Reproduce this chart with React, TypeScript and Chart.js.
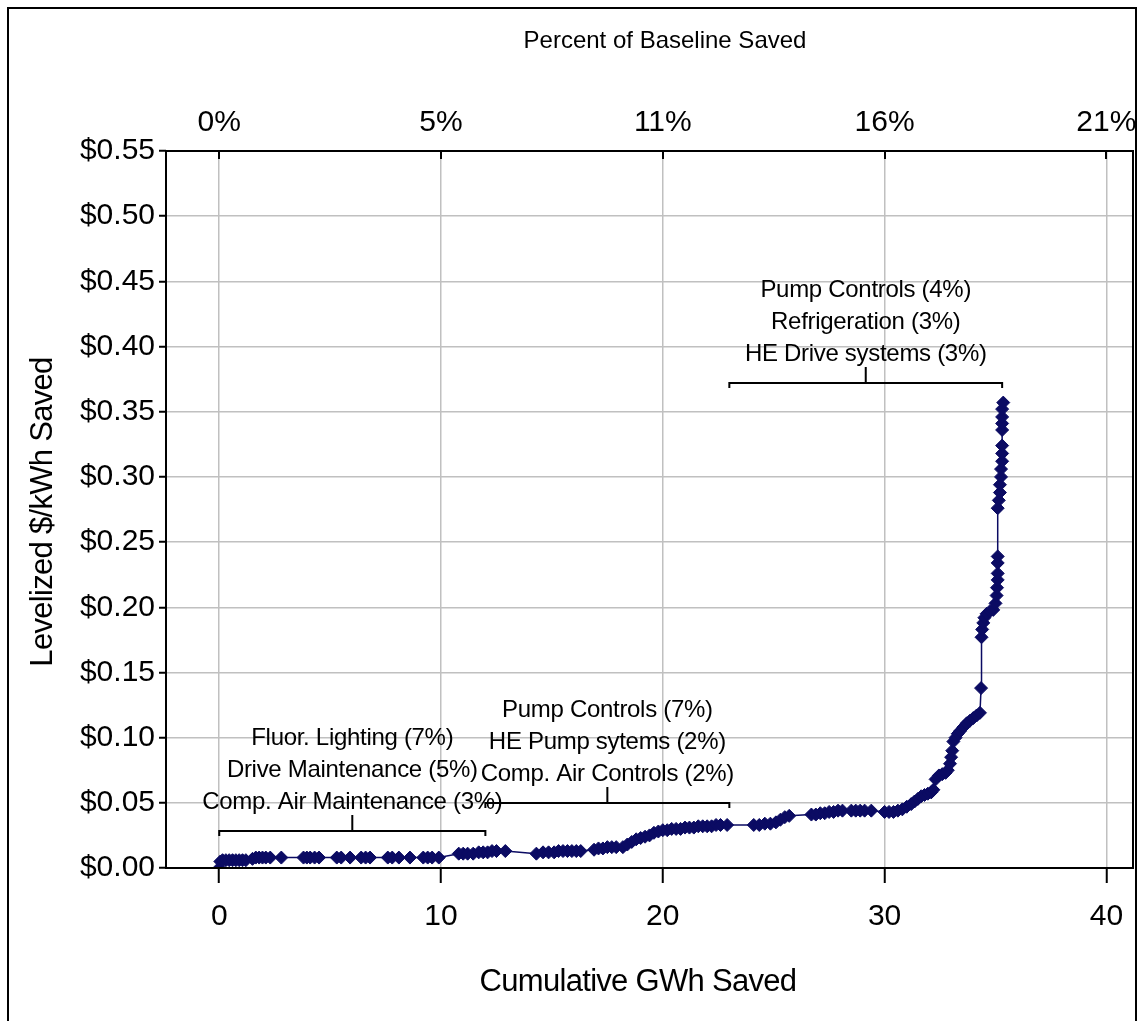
import React, { useEffect, useRef } from "react";
import { Chart, registerables } from "chart.js";

Chart.register(...registerables);

const FONT = "'Liberation Sans', Arial, sans-serif";
const NAVY = "#0b0b63";

// Cumulative GWh saved (x) and levelized $/kWh (y)
const gwh = [
  0, 0.05, 0.15, 0.3, 0.45, 0.6, 0.75, 0.9, 1.05, 1.2,
  1.5, 1.65, 1.8, 1.95, 2.1, 2.3, 2.8, 3.8, 3.95, 4.1,
  4.3, 4.5, 5.3, 5.5, 5.9, 6.4, 6.6, 6.8, 7.6, 7.8,
  8.1, 8.6, 9.2, 9.4, 9.6, 9.9, 10.8, 11.0, 11.2, 11.45,
  11.7, 11.9, 12.1, 12.3, 12.5, 12.9,
  14.3, 14.6, 14.85, 15.1, 15.3, 15.5, 15.7, 15.9, 16.1, 16.3,
  16.9, 17.1, 17.3, 17.5, 17.7, 17.9, 18.2, 18.4, 18.6, 18.8,
  19.0, 19.2, 19.4, 19.6, 19.8, 20.0, 20.2, 20.4, 20.6, 20.8,
  21.0, 21.2, 21.4, 21.6, 21.8, 22.0, 22.2, 22.4, 22.6, 22.9,
  24.1, 24.35, 24.6, 24.85, 25.1, 25.3, 25.5, 25.7, 26.7, 26.9,
  27.1, 27.3, 27.5, 27.7, 27.9, 28.1, 28.5, 28.7, 28.9, 29.1,
  29.4, 30.0, 30.2, 30.4, 30.6,
  30.8, 31.0, 31.2, 31.35, 31.5, 31.65, 31.8, 31.95, 32.1, 32.2,
  32.3, 32.45, 32.6, 32.75, 32.85, 32.95, 33.0, 33.05, 33.1, 33.2,
  33.3, 33.4, 33.55, 33.7, 33.85, 34.0, 34.15, 34.3, 34.35,
  34.37, 34.4, 34.45, 34.5, 34.6, 34.75, 34.9, 35.0, 35.05, 35.07,
  35.1, 35.1, 35.1, 35.1,
  35.1, 35.15, 35.2, 35.2, 35.25, 35.25, 35.3, 35.3, 35.3, 35.3,
  35.3, 35.3, 35.3, 35.35,
];

const cost = [
  0, 0.005, 0.006, 0.006, 0.006, 0.006, 0.006, 0.006, 0.006, 0.006,
  0.007, 0.008, 0.008, 0.008, 0.008, 0.008, 0.008, 0.008, 0.008, 0.008,
  0.008, 0.008, 0.008, 0.008, 0.008, 0.008, 0.008, 0.008, 0.008, 0.008,
  0.008, 0.008, 0.008, 0.008, 0.008, 0.008, 0.011, 0.011, 0.011, 0.011,
  0.012, 0.012, 0.012, 0.013, 0.013, 0.013,
  0.011, 0.012, 0.012, 0.012, 0.013, 0.013, 0.013, 0.013, 0.013, 0.013,
  0.014, 0.015, 0.015, 0.016, 0.016, 0.016, 0.016, 0.018, 0.020, 0.022,
  0.023, 0.024, 0.025, 0.027, 0.028, 0.029, 0.029, 0.030, 0.030, 0.030,
  0.031, 0.031, 0.031, 0.032, 0.032, 0.032, 0.032, 0.033, 0.033, 0.033,
  0.033, 0.033, 0.034, 0.034, 0.035, 0.037, 0.039, 0.040, 0.041, 0.041,
  0.042, 0.042, 0.043, 0.043, 0.044, 0.044, 0.044, 0.044, 0.044, 0.044,
  0.044, 0.043, 0.043, 0.043, 0.044,
  0.045, 0.047, 0.049, 0.051, 0.053, 0.055, 0.056, 0.057, 0.058, 0.060,
  0.068, 0.071, 0.072, 0.073, 0.075, 0.080, 0.085, 0.090, 0.097, 0.100,
  0.103, 0.105, 0.108, 0.111, 0.113, 0.115, 0.117, 0.119, 0.138,
  0.177, 0.183, 0.188, 0.192, 0.195, 0.197, 0.198, 0.203, 0.209, 0.215,
  0.221, 0.226, 0.234, 0.239,
  0.276, 0.282, 0.288, 0.294, 0.300, 0.306, 0.312, 0.318, 0.324, 0.336,
  0.341, 0.346, 0.352, 0.357,
];

const xTicks = [0, 10, 20, 30, 40];
const pctLabels = ["0%", "5%", "11%", "16%", "21%"];
const yMin = 0;
const yMax = 0.55;
const yStep = 0.05;

const bracketStart = [0, 12, 23];
const bracketEnd = [12, 23, 35.3];
const bracketLevel = [0.0284, 0.0498, 0.372];
const bracketLabels = [
  ["Fluor. Lighting (7%)", "Drive Maintenance (5%)", "Comp. Air Maintenance (3%)"],
  ["Pump Controls (7%)", "HE Pump sytems (2%)", "Comp. Air Controls (2%)"],
  ["Pump Controls (4%)", "Refrigeration (3%)", "HE Drive systems (3%)"],
];

const topTitle = "Percent of Baseline Saved";
const bottomTitle = "Cumulative GWh Saved";
const leftTitle = "Levelized $/kWh Saved";

const decor = {
  id: "decor",
  beforeDraw(chart: any) {
    const { ctx, width, height } = chart;
    ctx.save();
    ctx.fillStyle = "#ffffff";
    ctx.fillRect(0, 0, width, height);
    ctx.restore();
  },
  afterDraw(chart: any) {
    const { ctx, chartArea: a, scales } = chart;
    const xs = scales.x;
    const ys = scales.y;
    ctx.save();
    ctx.strokeStyle = "#000";
    ctx.lineWidth = 2;
    ctx.strokeRect(a.left, a.top, a.right - a.left, a.bottom - a.top);
    // inner top tick marks
    for (const v of xTicks) {
      const px = Math.round(xs.getPixelForValue(v));
      ctx.beginPath();
      ctx.moveTo(px, a.top);
      ctx.lineTo(px, a.top + 8);
      ctx.stroke();
    }
    // brackets with labels
    ctx.fillStyle = "#000";
    ctx.font = `24px ${FONT}`;
    (ctx as any).letterSpacing = "-0.3px";
    ctx.textAlign = "center";
    ctx.textBaseline = "middle";
    for (let i = 0; i < bracketStart.length; i++) {
      const x1 = xs.getPixelForValue(bracketStart[i]);
      const x2 = xs.getPixelForValue(bracketEnd[i]);
      const y = Math.round(ys.getPixelForValue(bracketLevel[i]));
      const cx = (x1 + x2) / 2;
      ctx.beginPath();
      ctx.moveTo(x1, y + 5);
      ctx.lineTo(x1, y);
      ctx.lineTo(x2, y);
      ctx.lineTo(x2, y + 5);
      ctx.moveTo(cx, y);
      ctx.lineTo(cx, y - 16);
      ctx.stroke();
      const lines = bracketLabels[i];
      for (let j = 0; j < lines.length; j++) {
        const off = 29 + (lines.length - 1 - j) * 32;
        ctx.fillText(lines[j], cx, y - off);
      }
    }
    // titles
    ctx.textBaseline = "alphabetic";
    ctx.font = `24px ${FONT}`;
    (ctx as any).letterSpacing = "0px";
    ctx.fillText(topTitle, 665, 47.5);
    ctx.font = `31px ${FONT}`;
    (ctx as any).letterSpacing = "-0.7px";
    ctx.fillText(bottomTitle, 638, 991);
    ctx.save();
    ctx.translate(52, 512);
    ctx.rotate(-Math.PI / 2);
    ctx.fillText(leftTitle, 0, 0);
    ctx.restore();
    (ctx as any).letterSpacing = "0px";
    // outer frame
    ctx.lineWidth = 2;
    ctx.beginPath();
    ctx.moveTo(8, 1030);
    ctx.lineTo(8, 8);
    ctx.lineTo(1136, 8);
    ctx.lineTo(1136, 1030);
    ctx.stroke();
    ctx.restore();
  },
};

export default function App() {
  const ref = useRef<HTMLCanvasElement>(null);
  useEffect(() => {
    const canvas = ref.current!;
    const tickFont = { size: 30, family: FONT };
    const chart = new Chart(canvas, {
      type: "scatter",
      data: {
        datasets: [
          {
            data: gwh.map((x, i) => ({ x, y: cost[i] })),
            showLine: true,
            borderColor: NAVY,
            borderWidth: 1.5,
            pointStyle: "rectRot",
            pointRadius: 6.5,
            pointBackgroundColor: NAVY,
            pointBorderColor: NAVY,
            pointBorderWidth: 1,
            xAxisID: "x",
            yAxisID: "y",
          } as any,
        ],
      },
      options: {
        animation: false,
        responsive: false,
        devicePixelRatio: 1,
        events: [],
        layout: { padding: { left: 0, right: 9, top: 0, bottom: 0 } },
        plugins: { legend: { display: false }, tooltip: { enabled: false } },
        scales: {
          x: {
            type: "linear",
            position: "bottom",
            min: -2.4,
            max: 41.2,
            afterBuildTicks: (s: any) => {
              s.ticks = xTicks.map((v) => ({ value: v }));
            },
            afterFit: (s: any) => {
              s.height = 153;
              s.paddingLeft = 0;
              s.paddingRight = 0;
            },
            ticks: {
              font: tickFont,
              color: "#000",
              padding: 16,
              maxRotation: 0,
              autoSkip: false,
              callback: (v: any) => String(v),
            },
            grid: {
              color: "#c0c0c0",
              lineWidth: 1.5,
              tickColor: "#000",
              tickLength: 15,
              tickWidth: 2,
            },
            border: { display: false },
          },
          x2: {
            type: "linear",
            position: "top",
            min: -2.4,
            max: 41.2,
            afterBuildTicks: (s: any) => {
              s.ticks = xTicks.map((v) => ({ value: v }));
            },
            afterFit: (s: any) => {
              s.height = 151;
              s.paddingLeft = 0;
              s.paddingRight = 0;
            },
            ticks: {
              font: tickFont,
              color: "#000",
              padding: 10,
              maxRotation: 0,
              autoSkip: false,
              callback: (_v: any, i: number) => pctLabels[i],
            },
            grid: { display: false, drawTicks: false },
            border: { display: false },
          },
          y: {
            type: "linear",
            position: "left",
            min: yMin,
            max: yMax,
            afterFit: (s: any) => {
              s.width = 166;
              s.paddingTop = 0;
              s.paddingBottom = 0;
            },
            ticks: {
              stepSize: yStep,
              font: tickFont,
              color: "#000",
              padding: 4,
              callback: (v: any) => "$" + Number(v).toFixed(2),
            },
            grid: {
              color: "#c0c0c0",
              lineWidth: 1.5,
              tickColor: "#000",
              tickLength: 7,
              tickWidth: 2,
            },
            border: { display: false },
          },
        },
      } as any,
      plugins: [decor],
    });
    return () => chart.destroy();
  }, []);
  return (
    <canvas
      ref={ref}
      width={1142}
      height={1021}
      style={{ position: "absolute", left: 0, top: 0, display: "block" }}
    />
  );
}
